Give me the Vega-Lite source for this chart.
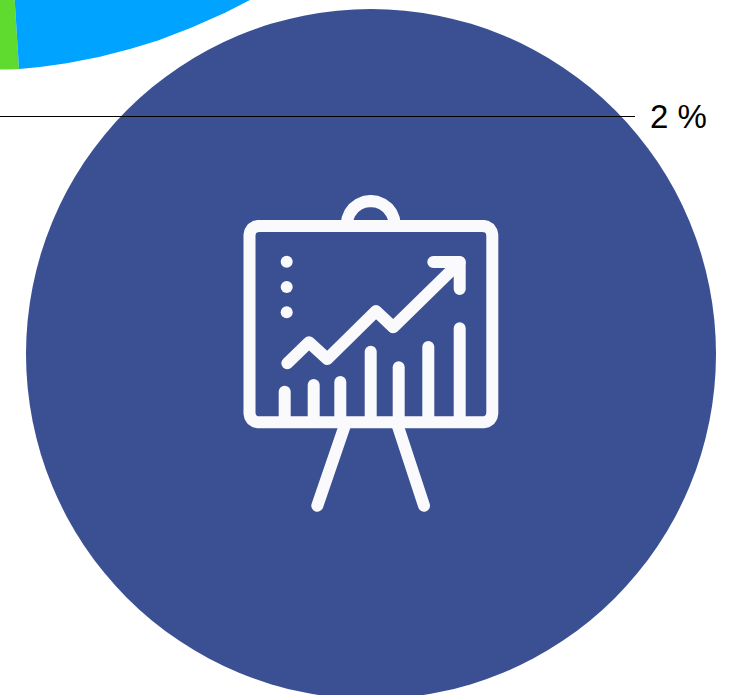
{"$schema":"https://vega.github.io/schema/vega-lite/v6.json","width":730,"height":695,"padding":0,"autosize":"none","background":"white","view":{"stroke":null},
"datasets":{
"green":[{"x":0,"y":69.6,"y0":0},{"x":7,"y":69.5,"y0":0},{"x":14.7,"y":69.2,"y0":0},{"x":19,"y":69,"y0":69}],
"blue":[{"x":14.7,"y":0,"y0":0},{"x":19,"y":69,"y0":0},{"x":40,"y":67,"y0":0},{"x":66.7,"y":63.3,"y0":0},{"x":100,"y":56.7,"y0":0},{"x":130,"y":49,"y0":0},{"x":158,"y":40.5,"y0":0},{"x":191.7,"y":27.5,"y0":0},{"x":225,"y":12.7,"y0":0},{"x":250,"y":0,"y0":0}],
"disc":[{"x":371,"y":354,"area":476100}],
"leader":[{"x":0,"x2":635,"y":116.5}],
"label":[{"x":650,"y":128,"text":"2 %"}],
"dots":[{"x":286.7,"y":261.7},{"x":286.7,"y":287},{"x":286.7,"y":312.3}],
"icon":[
{"g":"frame","o":0,"x":258.5,"y":226},{"g":"frame","o":1,"x":483.3,"y":226},{"g":"frame","o":2,"x":486.7,"y":226.7},{"g":"frame","o":3,"x":489.7,"y":228.6},{"g":"frame","o":4,"x":491.6,"y":231.6},{"g":"frame","o":5,"x":492.3,"y":235},{"g":"frame","o":6,"x":492.3,"y":413.3},{"g":"frame","o":7,"x":491.6,"y":416.7},{"g":"frame","o":8,"x":489.7,"y":419.7},{"g":"frame","o":9,"x":486.7,"y":421.6},{"g":"frame","o":10,"x":483.3,"y":422.3},{"g":"frame","o":11,"x":258.5,"y":422.3},{"g":"frame","o":12,"x":255.1,"y":421.6},{"g":"frame","o":13,"x":252.1,"y":419.7},{"g":"frame","o":14,"x":250.2,"y":416.7},{"g":"frame","o":15,"x":249.5,"y":413.3},{"g":"frame","o":16,"x":249.5,"y":235},{"g":"frame","o":17,"x":250.2,"y":231.6},{"g":"frame","o":18,"x":252.1,"y":228.6},{"g":"frame","o":19,"x":255.1,"y":226.7},{"g":"frame","o":20,"x":258.5,"y":226},
{"g":"handle","o":0,"x":346.7,"y":225},{"g":"handle","o":1,"x":347.5,"y":218.8},{"g":"handle","o":2,"x":349.9,"y":213},{"g":"handle","o":3,"x":353.7,"y":208},{"g":"handle","o":4,"x":358.7,"y":204.2},{"g":"handle","o":5,"x":364.5,"y":201.8},{"g":"handle","o":6,"x":370.7,"y":201},{"g":"handle","o":7,"x":376.9,"y":201.8},{"g":"handle","o":8,"x":382.7,"y":204.2},{"g":"handle","o":9,"x":387.7,"y":208},{"g":"handle","o":10,"x":391.5,"y":213},{"g":"handle","o":11,"x":393.9,"y":218.8},{"g":"handle","o":12,"x":394.7,"y":225},
{"g":"trend","o":0,"x":287.3,"y":363.3},{"g":"trend","o":1,"x":309,"y":342.3},{"g":"trend","o":2,"x":327.3,"y":359},{"g":"trend","o":3,"x":376,"y":311},{"g":"trend","o":4,"x":393.3,"y":327.3},{"g":"trend","o":5,"x":459.7,"y":262.3},
{"g":"arrow","o":0,"x":433.3,"y":262},{"g":"arrow","o":1,"x":459.7,"y":262},{"g":"arrow","o":2,"x":459.7,"y":289},
{"g":"b1","o":0,"x":284.7,"y":391.7},{"g":"b1","o":1,"x":284.7,"y":422},
{"g":"b2","o":0,"x":313.7,"y":385},{"g":"b2","o":1,"x":313.7,"y":422},
{"g":"b3","o":0,"x":340.3,"y":382},{"g":"b3","o":1,"x":340.3,"y":422},
{"g":"b4","o":0,"x":370.7,"y":351.7},{"g":"b4","o":1,"x":370.7,"y":422},
{"g":"b5","o":0,"x":398.7,"y":367.3},{"g":"b5","o":1,"x":398.7,"y":422},
{"g":"b6","o":0,"x":428.3,"y":347},{"g":"b6","o":1,"x":428.3,"y":422},
{"g":"b7","o":0,"x":459.7,"y":328.3},{"g":"b7","o":1,"x":459.7,"y":422},
{"g":"legL","o":0,"x":345,"y":425},{"g":"legL","o":1,"x":317.3,"y":505.7},
{"g":"legR","o":0,"x":397.5,"y":425},{"g":"legR","o":1,"x":424,"y":505.7}
]},
"encoding":{"x":{"field":"x","type":"quantitative","axis":null,"scale":{"domain":[0,730],"nice":false,"zero":false}},"y":{"field":"y","type":"quantitative","axis":null,"scale":{"domain":[695,0],"nice":false,"zero":false}}},
"layer":[
{"data":{"name":"green"},"mark":{"type":"area","color":"#5FDB2F","clip":true},"encoding":{"y2":{"field":"y0"}}},
{"data":{"name":"blue"},"mark":{"type":"area","color":"#00A3FF","clip":true},"encoding":{"y2":{"field":"y0"}}},
{"data":{"name":"disc"},"mark":{"type":"point","shape":"circle","filled":true,"color":"#3B5093","opacity":1,"clip":true},"encoding":{"size":{"field":"area","type":"quantitative","legend":null,"scale":null}}},
{"data":{"name":"leader"},"mark":{"type":"rule","color":"#000000","strokeWidth":1},"encoding":{"x2":{"field":"x2"}}},
{"data":{"name":"label"},"mark":{"type":"text","align":"left","baseline":"alphabetic","font":"Liberation Sans","fontSize":33,"color":"#000000"},"encoding":{"text":{"field":"text"}}},
{"data":{"name":"icon"},"mark":{"type":"line","color":"#FAFAFC","strokeWidth":12,"strokeCap":"round","strokeJoin":"round"},"encoding":{"detail":{"field":"g"},"order":{"field":"o","type":"quantitative"}}},
{"data":{"name":"dots"},"mark":{"type":"point","shape":"circle","filled":true,"color":"#FAFAFC","opacity":1,"size":144}}
]}
